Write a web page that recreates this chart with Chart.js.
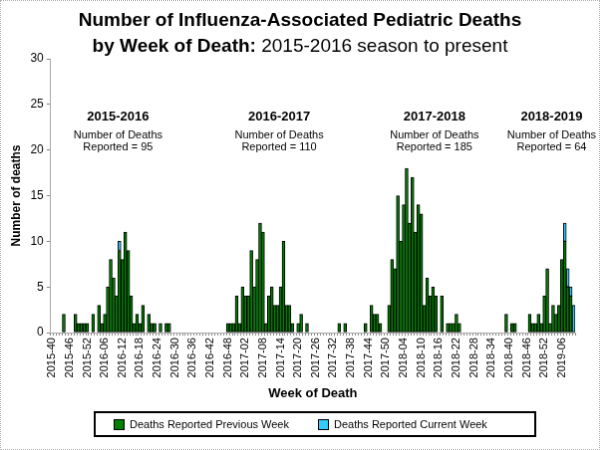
<!DOCTYPE html>
<html>
<head>
<meta charset="utf-8">
<script src="https://cdn.jsdelivr.net/npm/chart.js@4.4.0/dist/chart.umd.min.js"></script>
<style>
  body { margin: 0; background: #fff; }
  #wrap { width: 600px; height: 450px; position: relative; }
  canvas { box-sizing: border-box; border: 1px dotted #b0b0b0; }
</style>
</head>
<body>
<div id="wrap"><canvas id="fluChart" width="600" height="450"></canvas></div>
<script>
// weeks 2015-40 .. 2019-09 (52-week years)
const startYear = 2015;
const startWeek = 40;
const weekCount = 179;

const prevWeek = [
  0,0,0,0,2,0,0,0,2,1,
  1,1,1,0,2,0,3,1,2,5,
  8,6,4,9,8,11,9,4,1,2,
  1,3,0,2,1,1,0,1,0,1,
  1,0,0,0,0,0,0,0,0,0,
  0,0,0,0,0,0,0,0,0,0,
  1,1,1,4,1,5,4,4,9,5,
  8,12,11,1,4,5,3,3,5,10,
  3,3,1,0,1,2,0,1,0,0,
  0,0,0,0,0,0,0,0,1,0,
  1,0,0,0,0,0,0,1,0,3,
  2,2,1,0,0,3,8,7,15,10,
  14,18,12,17,11,14,13,3,6,4,
  5,4,0,4,0,1,1,1,2,1,
  0,0,0,0,0,0,0,0,0,0,
  0,0,0,0,0,2,0,1,1,0,
  0,0,0,2,1,1,2,1,4,7,
  1,3,2,3,8,10,5,4,0
];

const currWeek = [
  0,0,0,0,0,0,0,0,0,0,
  0,0,0,0,0,0,0,0,0,0,
  0,0,0,1,0,0,0,0,0,0,
  0,0,0,0,0,0,0,0,0,0,
  0,0,0,0,0,0,0,0,0,0,
  0,0,0,0,0,0,0,0,0,0,
  0,0,0,0,0,0,0,0,0,0,
  0,0,0,0,0,0,0,0,0,0,
  0,0,0,0,0,0,0,0,0,0,
  0,0,0,0,0,0,0,0,0,0,
  0,0,0,0,0,0,0,0,0,0,
  0,0,0,0,0,0,0,0,0,0,
  0,0,0,0,0,0,0,0,0,0,
  0,0,0,0,0,0,0,0,0,0,
  0,0,0,0,0,0,0,0,0,0,
  0,0,0,0,0,0,0,0,0,0,
  0,0,0,0,0,0,0,0,0,0,
  0,0,0,0,0,2,2,1,3
];

const seasons = ['2015-2016', '2016-2017', '2017-2018', '2018-2019'];
const seasonTotals = [95, 110, 185, 64];
const seasonLabelAt = [22.5, 77.5, 130.5, 170.5];  // week index the note is centred on

const weeks = [];
for (let i = 0; i < weekCount; i++) {
  let y = startYear, w = startWeek + i;
  while (w > 52) { w -= 52; y++; }
  weeks.push(y + '-' + String(w).padStart(2, '0'));
}

const GREEN = '#008000';
const CYAN = '#33CCFF';

// title, season notes and legend box
const extras = {
  id: 'extras',
  afterDraw(chart) {
    const c = chart.ctx;
    const x = chart.scales.x;
    c.save();
    c.fillStyle = '#000';
    c.textBaseline = 'middle';

    c.textAlign = 'center';
    c.font = 'bold 19px Arial';
    c.fillText('Number of Influenza-Associated Pediatric Deaths', 300, 20);
    const a = 'by Week of Death:', b = ' 2015-2016 season to present';
    const wa = c.measureText(a).width;
    c.font = '19px Arial';
    const wb = c.measureText(b).width;
    const x0 = 300 - (wa + wb) / 2;
    c.textAlign = 'left';
    c.font = 'bold 19px Arial';
    c.fillText(a, x0, 46);
    c.font = '19px Arial';
    c.fillText(b, x0 + wa, 46);

    c.textAlign = 'center';
    seasons.forEach((s, k) => {
      const px = x.getPixelForValue(seasonLabelAt[k]);
      c.font = 'bold 13px Arial';
      c.fillText(s, px, 116);
      c.font = '11px Arial';
      c.fillText('Number of Deaths', px, 135);
      c.fillText('Reported = ' + seasonTotals[k], px, 147);
    });

    // legend
    c.lineWidth = 2;
    c.strokeStyle = '#000';
    c.strokeRect(94, 413, 442, 24);
    c.lineWidth = 1;
    c.textAlign = 'left';
    c.font = '11px Arial';
    [[113, GREEN, 'Deaths Reported Previous Week'], [318, CYAN, 'Deaths Reported Current Week']].forEach(it => {
      c.fillStyle = it[1];
      c.fillRect(it[0], 420, 10, 10);
      c.strokeRect(it[0] + 0.5, 420.5, 10, 10);
      c.fillStyle = '#000';
      c.fillText(it[2], it[0] + 16, 426);
    });
    c.restore();
  }
};

new Chart(document.getElementById('fluChart'), {
  type: 'bar',
  data: {
    labels: weeks,
    datasets: [
      {
        label: 'Deaths Reported Previous Week',
        data: prevWeek,
        backgroundColor: GREEN,
        borderColor: '#000',
        borderWidth: 1,
        borderSkipped: false
      },
      {
        label: 'Deaths Reported Current Week',
        data: currWeek,
        backgroundColor: CYAN,
        borderColor: '#000',
        borderWidth: 1,
        borderSkipped: false
      }
    ]
  },
  options: {
    responsive: false,
    animation: false,
    devicePixelRatio: 1,
    layout: { padding: { top: 58, left: 4, right: 24, bottom: 44 } },
    datasets: { bar: { barPercentage: 1, categoryPercentage: 1 } },
    plugins: {
      legend: { display: false },
      tooltip: { enabled: false }
    },
    scales: {
      x: {
        stacked: true,
        grid: { display: true, drawOnChartArea: false, tickLength: 3, color: '#888' },
        border: { color: '#aaa' },
        ticks: {
          autoSkip: false,
          maxRotation: 90,
          minRotation: 90,
          padding: 2,
          color: '#000',
          font: { family: 'Arial', size: 11 },
          callback: (v, i) => (i % 6 === 0 ? weeks[i] : '')
        },
        title: {
          display: true,
          text: 'Week of Death',
          color: '#000',
          font: { family: 'Arial', size: 13, weight: 'bold' },
          padding: { top: 6 }
        }
      },
      y: {
        stacked: true,
        min: 0,
        max: 30,
        grid: { display: true, drawOnChartArea: false, tickLength: 4, color: '#888' },
        border: { color: '#aaa' },
        ticks: {
          stepSize: 5,
          color: '#000',
          font: { family: 'Arial', size: 12 }
        },
        title: {
          display: true,
          text: 'Number of deaths',
          color: '#000',
          font: { family: 'Arial', size: 12, weight: 'bold' }
        }
      }
    }
  },
  plugins: [extras]
});
</script>
</body>
</html>
